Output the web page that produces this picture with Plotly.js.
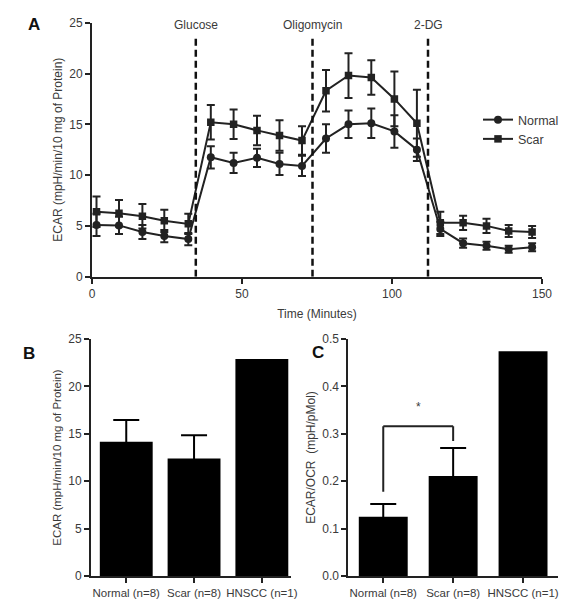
<!DOCTYPE html>
<html>
<head>
<meta charset="utf-8">
<script src="https://cdn.plot.ly/plotly-3.0.1.min.js"></script>
<style>html,body{margin:0;padding:0;background:#fff;}#chart{width:575px;height:611px;}</style>
</head>
<body>
<div id="chart"></div>
<script>
// ---- Panel A data ----
var timeMin = [1.5, 9, 16.8, 24.1, 32.1, 39.6, 47.2, 55, 62.5, 70, 78, 85.5, 93.1, 100.8, 108.3, 116.1, 123.7, 131.5, 138.9, 146.7];
var normalEcar = [5.1, 5.05, 4.4, 4.0, 3.7, 11.75, 11.2, 11.7, 11.1, 10.9, 13.6, 15.0, 15.1, 14.3, 12.5, 4.7, 3.3, 3.05, 2.7, 2.9];
var normalErr  = [1.1, 0.85, 0.7, 0.6, 0.6, 1.1, 1.0, 0.9, 1.1, 1.0, 1.4, 1.35, 1.45, 1.6, 1.1, 0.7, 0.45, 0.4, 0.35, 0.4];
var scarEcar   = [6.4, 6.25, 5.95, 5.5, 5.2, 15.2, 15.0, 14.4, 13.9, 13.4, 18.3, 19.8, 19.6, 17.5, 15.1, 5.3, 5.3, 5.0, 4.5, 4.4];
var scarErr    = [1.5, 1.3, 1.2, 1.1, 1.0, 1.7, 1.45, 1.45, 1.5, 1.4, 2.05, 2.2, 1.7, 2.7, 3.3, 1.1, 0.7, 0.7, 0.6, 0.6];
var injTimes   = [34.6, 73.5, 112];
var injLabels  = ["Glucose", "Oligomycin", "2-DG"];

// ---- Panel B / C data ----
var groups   = ["Normal (n=8)", "Scar (n=8)", "HNSCC (n=1)"];
var ecarB    = [14.15, 12.4, 22.9];
var ecarBErr = [2.3, 2.45, NaN];   // n=1: no error bar
var ratioC   = [0.125, 0.211, 0.474];
var ratioCErr= [0.027, 0.059, NaN];

var FONT = 'Liberation Sans, Arial, Helvetica, sans-serif';
var INK = '#222';
var TXT = '#3a3a3a';

function errA(arr){ return {type:'data', array:arr, visible:true, color:INK, thickness:2, width:4}; }
// upper-only error bars: the lower cap is tucked just inside the black bar
function errBar(vals, errs){
  return {type:'data', symmetric:false, array:errs,
          arrayminus: vals.map(function(v, i){ return isNaN(errs[i]) ? NaN : v * 0.03; }),
          visible:true, color:'#000', thickness:2, width:13};
}

var traces = [
  {x: timeMin, y: normalEcar, error_y: errA(normalErr), type:'scatter', mode:'lines+markers', name:'Normal',
   line:{color:INK, width:2}, marker:{symbol:'circle', size:8, color:INK}, xaxis:'x', yaxis:'y'},
  {x: timeMin, y: scarEcar, error_y: errA(scarErr), type:'scatter', mode:'lines+markers', name:'Scar',
   line:{color:INK, width:2}, marker:{symbol:'square', size:7.5, color:INK}, xaxis:'x', yaxis:'y'},
  {x: groups, y: ecarB, type:'bar', width:0.78, marker:{color:'#000'}, showlegend:false,
   error_y: errBar(ecarB, ecarBErr), xaxis:'x2', yaxis:'y2'},
  {x: groups, y: ratioC, type:'bar', width:0.7, marker:{color:'#000'}, showlegend:false,
   error_y: errBar(ratioC, ratioCErr), xaxis:'x3', yaxis:'y3'}
];

function axisBase(extra){
  var a = {showline:true, linewidth:2, linecolor:INK, ticks:'outside', ticklen:5, tickwidth:2, tickcolor:INK,
           showgrid:false, zeroline:false, tickfont:{family:FONT, size:12, color:TXT}, fixedrange:true};
  for (var k in extra) a[k] = extra[k];
  return a;
}

var shapes = [];
var annotations = [];
injTimes.forEach(function(t, i){
  shapes.push({type:'line', xref:'x', yref:'y', x0:t, x1:t, y0:0, y1:23.7,
               line:{color:'#111', width:2.5, dash:'7px,4px'}});
  annotations.push({xref:'x', yref:'y', x:t, y:24.8, text:injLabels[i], showarrow:false,
                    font:{family:FONT, size:12, color:TXT}, yanchor:'middle'});
});
// significance bracket (panel C)
shapes.push({type:'line', xref:'x3', yref:'y3', x0:0, x1:0, y0:0.178, y1:0.316, line:{color:INK, width:2}});
shapes.push({type:'line', xref:'x3', yref:'y3', x0:0, x1:1, y0:0.316, y1:0.316, line:{color:INK, width:2}});
shapes.push({type:'line', xref:'x3', yref:'y3', x0:1, x1:1, y0:0.316, y1:0.285, line:{color:INK, width:2}});
annotations.push({xref:'x3', yref:'y3', x:0.5, y:0.356, text:'*', showarrow:false, font:{family:FONT, size:12, color:TXT}});

// panel letters
[['A', 34, 25], ['B', 29, 353], ['C', 318, 352]].forEach(function(p){
  annotations.push({xref:'paper', yref:'paper', x:p[1]/575, y:1 - p[2]/611, text:'<b>'+p[0]+'</b>',
                    showarrow:false, xanchor:'center', yanchor:'middle', font:{family:FONT, size:17, color:'#111'}});
});

var layout = {
  width:575, height:611, margin:{l:0, r:0, t:0, b:0},
  paper_bgcolor:'#fff', plot_bgcolor:'#fff',
  font:{family:FONT, size:11, color:TXT},
  showlegend:true,
  legend:{x:478/575, y:1 - 105/611, xanchor:'left', yanchor:'top', bgcolor:'rgba(0,0,0,0)',
          font:{family:FONT, size:12.5, color:TXT}, tracegroupgap:0, itemwidth:30},
  xaxis: axisBase({domain:[92/575, 542/575], range:[0,150], tickvals:[0,50,100,150], anchor:'y',
          title:{text:'Time (Minutes)', font:{family:FONT, size:12, color:TXT}, standoff:10}}),
  yaxis: axisBase({domain:[1-276.7/611, 1-22.7/611], range:[0,25], tickvals:[0,5,10,15,20,25], anchor:'x',
          title:{text:'ECAR (mpH/min/10 mg of Protein)', font:{family:FONT, size:12, color:TXT}, standoff:4}}),
  xaxis2: axisBase({domain:[91/575, 291/575], type:'category', range:[-0.52, 2.43], anchor:'y2',
          tickfont:{family:FONT, size:11.5, color:TXT}}),
  yaxis2: axisBase({domain:[1-576/611, 1-339/611], range:[0,25], tickvals:[0,5,10,15,20,25], anchor:'x2',
          title:{text:'ECAR (mpH/min/10 mg of Protein)', font:{family:FONT, size:11.5, color:TXT}, standoff:4}}),
  xaxis3: axisBase({domain:[348.3/575, 558/575], type:'category', range:[-0.5, 2.5], anchor:'y3',
          tickfont:{family:FONT, size:11.5, color:TXT}}),
  yaxis3: axisBase({domain:[1-576/611, 1-339/611], range:[0,0.5], tickvals:[0,0.1,0.2,0.3,0.4,0.5], tickformat:'.1f', anchor:'x3',
          title:{text:'ECAR/OCR  (mpH/pMol)', font:{family:FONT, size:12, color:TXT}, standoff:4}}),
  shapes:shapes,
  annotations:annotations,
  bargap:0.2
};

Plotly.newPlot('chart', traces, layout, {displayModeBar:false, staticPlot:true});
</script>
</body>
</html>
